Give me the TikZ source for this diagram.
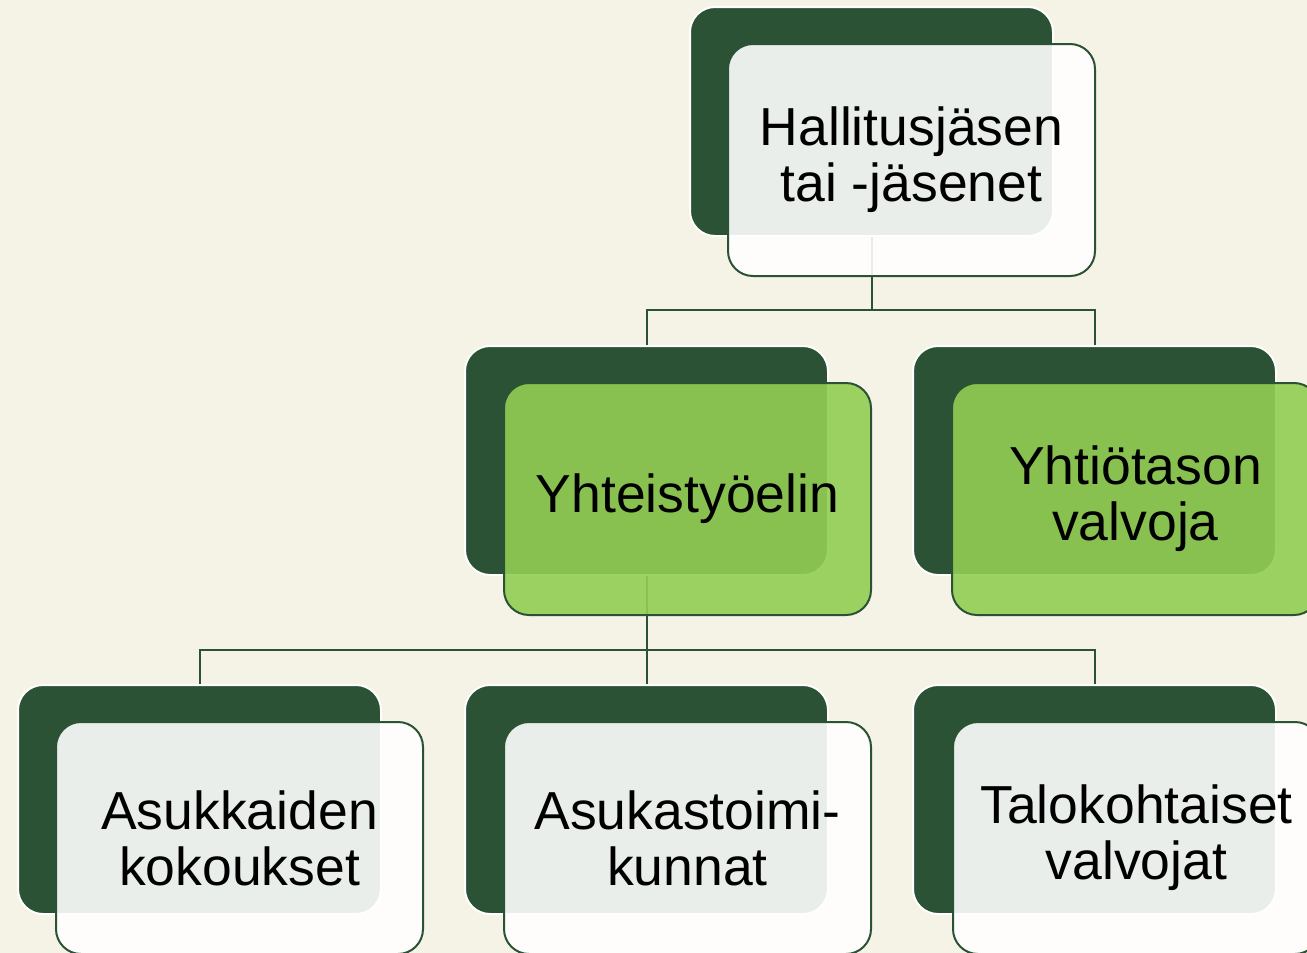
\documentclass[tikz,border=0pt]{standalone}
\usepackage{fontspec}
\setmainfont{Liberation Sans}
\definecolor{bgcream}{HTML}{F5F2E6}
\definecolor{dkgreen}{HTML}{2C5236}
\definecolor{ltgreen}{HTML}{92CE52}
\begin{document}
\begin{tikzpicture}[x=1pt,y=-1pt,
  backbox/.style={draw=white, line width=2pt, fill=dkgreen, rounded corners=25pt,
    minimum width=363pt, minimum height=229pt, anchor=north west, inner sep=0pt},
  frontbox/.style={draw=dkgreen, line width=2pt, fill=white, fill opacity=0.9, text opacity=1,
    rounded corners=25pt, minimum width=367pt, minimum height=232pt, anchor=north west,
    align=center, text=black, inner sep=2pt, font=\fontsize{53.5}{56}\selectfont},
  greenbox/.style={frontbox, fill=ltgreen},
  conn/.style={draw=dkgreen, line width=2pt}]
\useasboundingbox (0,0) rectangle (1307,953);
\fill[bgcream] (0,0) rectangle (1307,953);
\clip (0,0) rectangle (1307,953);
% back boxes
\node[backbox] (tb) at (689,6) {};
\node[backbox] (mlb) at (464,345) {};
\node[backbox] (mrb) at (912,345) {};
\node[backbox] (blb) at (17,684) {};
\node[backbox] (bmb) at (464,684) {};
\node[backbox] (brb) at (912,684) {};
% connectors
\coordinate (j1) at (871,310);
\coordinate (j2) at (647,650);
\draw[conn] (tb.south) -- (tb.south |- j1) -| (mlb.north);
\draw[conn] (tb.south |- j1) -| (mrb.north);
\draw[conn] (mlb.south) -- (mlb.south |- j2) -| (blb.north);
\draw[conn] (mlb.south |- j2) -- (bmb.north);
\draw[conn] (mlb.south |- j2) -| (brb.north);
% front boxes
\node[frontbox] (tf) at (727,43) {Hallitusjäsen\\tai -jäsenet};
\node[greenbox] (mlf) at (503,382) {Yhteistyöelin};
\node[greenbox] (mrf) at (951,382) {Yhtiötason\\valvoja};
\node[frontbox] (blf) at (55,721) {Asukkaiden\\kokoukset};
\node[frontbox] (bmf) at (503,721) {Asukastoimi-\\kunnat};
\node[frontbox] (brf) at (952,721) {Talokohtaiset\\valvojat};
\end{tikzpicture}
\end{document}
